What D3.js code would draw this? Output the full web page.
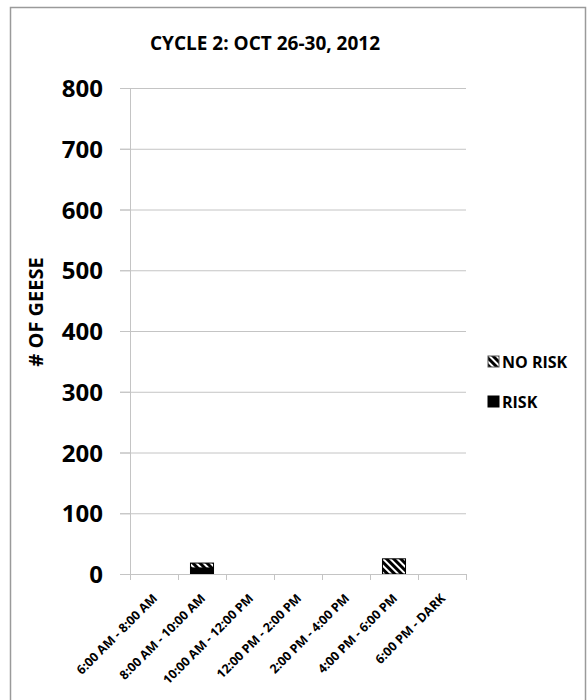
<!DOCTYPE html>
<html>
<head>
<meta charset="utf-8">
<script src="https://cdn.jsdelivr.net/npm/d3@7"></script>
<style>
body { margin: 0; background: #fff; }
</style>
</head>
<body>
<script>
var categories = ["6:00 AM - 8:00 AM", "8:00 AM - 10:00 AM", "10:00 AM - 12:00 PM", "12:00 PM - 2:00 PM", "2:00 PM - 4:00 PM", "4:00 PM - 6:00 PM", "6:00 PM - DARK"];
var risk = [0, 10, 0, 0, 0, 0, 0];
var noRisk = [0, 8, 0, 0, 0, 25, 0];
var yTicks = [0, 100, 200, 300, 400, 500, 600, 700, 800];
var seriesNames = ["NO RISK", "RISK"];

var svg_width = 587, svg_height = 700;
var svg = d3.select("body").append("svg").attr("width", svg_width).attr("height", svg_height);

var defs = svg.append("defs");
var pat = defs.append("pattern")
    .attr("id", "hatch")
    .attr("patternUnits", "userSpaceOnUse")
    .attr("width", 5).attr("height", 5)
    .attr("patternTransform", "rotate(-45)");
pat.append("rect").attr("width", 5).attr("height", 5).attr("fill", "#000");
pat.append("rect").attr("x", 0).attr("y", 0).attr("width", 2).attr("height", 5).attr("fill", "#fff");

// outer frame
svg.append("rect")
    .attr("x", 10.5).attr("y", 7.5)
    .attr("width", 575).attr("height", 700)
    .attr("fill", "none").attr("stroke", "#9a9a9a").attr("stroke-width", 1.5);

var margin = {top: 88, left: 130, right: 121, bottom: 126};
var width = svg_width - margin.left - margin.right,
    height = svg_height - margin.top - margin.bottom;

var g = svg.append("g").attr("transform", "translate(" + margin.left + "," + margin.top + ")");

var x = d3.scaleBand().domain(categories).range([0, width]).paddingInner(0.52).paddingOuter(0.26);
var xTick = d3.scaleBand().domain(categories).range([0, width]);
var y = d3.scaleLinear().domain([0, 800]).range([height, 0]);

// gridlines
g.selectAll(".grid")
    .data(yTicks.slice(1))
    .enter().append("line")
    .attr("x1", -10).attr("x2", width)
    .attr("y1", function(d) { return y(d) + 0.5; })
    .attr("y2", function(d) { return y(d) + 0.5; })
    .attr("stroke", "#c4c4c4").attr("stroke-width", 1);

// y axis
var yAxis = g.append("g")
    .call(d3.axisLeft(y).tickValues(yTicks).tickSize(10).tickPadding(17));
yAxis.select(".domain").attr("stroke", "#c4c4c4");
yAxis.selectAll(".tick line").attr("stroke", "#c4c4c4");
yAxis.selectAll("text")
    .style("font", "bold 24px 'Open Sans', sans-serif")
    .attr("fill", "#000")
    .attr("dy", "0.36em");

// stacked bars
var stackData = categories.map(function(c, i) { return {cat: c, risk: risk[i], noRisk: noRisk[i]}; });
var stack = d3.stack().keys(["risk", "noRisk"]);
var layers = stack(stackData);
var fills = {risk: "#000", noRisk: "url(#hatch)"};

layers.forEach(function(layer) {
  g.selectAll(".bar-" + layer.key)
    .data(layer.filter(function(d) { return d[1] - d[0] > 0; }))
    .enter().append("rect")
      .attr("x", function(d) { return x(d.data.cat); })
      .attr("y", function(d) { return y(d[1]); })
      .attr("width", x.bandwidth())
      .attr("height", function(d) { return y(d[0]) - y(d[1]); })
      .attr("fill", fills[layer.key])
      .attr("stroke", "#000").attr("stroke-width", 1);
});

// x axis
var xAxis = g.append("g")
    .attr("transform", "translate(0," + height + ")");
xAxis.append("line")
    .attr("x1", 0).attr("x2", width).attr("y1", 0.5).attr("y2", 0.5)
    .attr("stroke", "#c4c4c4");
xAxis.selectAll(".xt")
    .data(categories.concat(["end"]))
    .enter().append("line")
    .attr("x1", function(d, i) { return i * xTick.bandwidth() + 0.5; })
    .attr("x2", function(d, i) { return i * xTick.bandwidth() + 0.5; })
    .attr("y1", 0).attr("y2", 6)
    .attr("stroke", "#c4c4c4");
xAxis.selectAll(".xl")
    .data(categories)
    .enter().append("text")
    .attr("transform", function(d) {
      return "translate(" + (xTick(d) + xTick.bandwidth() / 2 + 1) + ",22) rotate(-45)";
    })
    .attr("text-anchor", "end")
    .attr("dy", "0.35em")
    .style("font", "bold 12.5px 'Liberation Sans Narrow', 'Open Sans', sans-serif")
    .text(function(d) { return d; });

// title
svg.append("text")
    .attr("x", 265).attr("y", 50)
    .attr("text-anchor", "middle")
    .style("font", "bold 19px 'Liberation Sans Narrow', 'Open Sans', sans-serif")
    .text("CYCLE 2: OCT  26-30, 2012");

// y label
svg.append("text")
    .attr("transform", "translate(43,312) rotate(-90)")
    .attr("text-anchor", "middle")
    .style("font", "bold 20px 'Open Sans', sans-serif")
    .text("# OF GEESE");

// legend
var legend = svg.append("g").attr("transform", "translate(488,356)");
var legendFills = ["url(#hatch)", "#000"];
seriesNames.forEach(function(name, i) {
  legend.append("rect")
    .attr("x", 0).attr("y", i * 40)
    .attr("width", 11).attr("height", 11)
    .attr("fill", legendFills[i])
    .attr("stroke", i === 0 ? "#555" : "#000");
  legend.append("text")
    .attr("x", 14).attr("y", i * 40 + 6)
    .attr("dy", "0.35em")
    .style("font", "bold 16px 'Liberation Sans Narrow', 'Open Sans', sans-serif")
    .text(name);
});
</script>
</body>
</html>
